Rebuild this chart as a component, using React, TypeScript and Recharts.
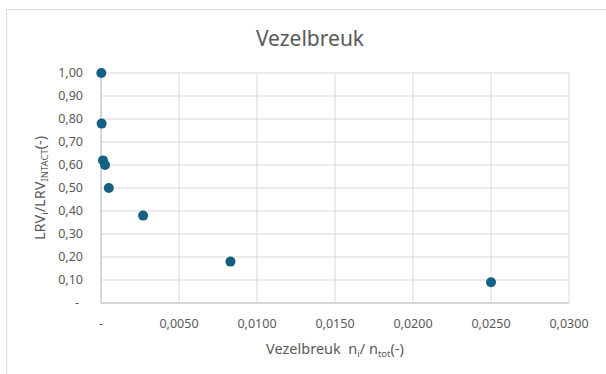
import React from "react";
import { ScatterChart, Scatter, XAxis, YAxis, CartesianGrid } from "recharts";

const xValues = [0.00002, 0.00004, 0.00013, 0.00026, 0.0005, 0.0027, 0.0083, 0.025];
const yValues = [1.0, 0.78, 0.62, 0.6, 0.5, 0.38, 0.18, 0.09];
const xTicks = [0, 0.005, 0.01, 0.015, 0.02, 0.025, 0.03];
const yTicks = [0, 0.1, 0.2, 0.3, 0.4, 0.5, 0.6, 0.7, 0.8, 0.9, 1.0];
const title = "Vezelbreuk";

const data = xValues.map((x, i) => ({ x, y: yValues[i] }));

const FONT = "'Noto Sans', 'Open Sans', sans-serif";
const GRAY = "#595959";

const fmt = (v: number, d: number) => (v === 0 ? "-" : v.toFixed(d).replace(".", ","));

const YTick = (props: any) => {
  const { x, y, payload } = props;
  const v = payload.value;
  return (
    <text
      x={v === 0 ? x - 4 : x}
      y={y}
      dy="0.35em"
      textAnchor="end"
      fill={GRAY}
      fontSize={12.5}
      fontFamily={FONT}
    >
      {fmt(v, 2)}
    </text>
  );
};

const XTick = (props: any) => {
  const { x, y, payload } = props;
  return (
    <text x={x} y={y} dy="0.71em" textAnchor="middle" fill={GRAY} fontSize={12.5} fontFamily={FONT}>
      {fmt(payload.value, 4)}
    </text>
  );
};

const XTitle = (props: any) => {
  const vb = props.viewBox || {};
  const cx = vb.x + vb.width / 2;
  return (
    <text x={cx} y={354} textAnchor="middle" fill={GRAY} fontSize={14.5} fontFamily={FONT}>
      Vezelbreuk{"\u00a0\u00a0"}n
      <tspan fontSize={9.5} dy={3}>i</tspan>
      <tspan dy={-3}>/ n</tspan>
      <tspan fontSize={9.5} dy={3}>tot</tspan>
      <tspan dy={-3}>(-)</tspan>
    </text>
  );
};

const YTitle = (props: any) => {
  const vb = props.viewBox || {};
  const cy = vb.y + vb.height / 2;
  const cx = 45;
  return (
    <text
      x={cx}
      y={cy}
      transform={`rotate(-90, ${cx}, ${cy})`}
      textAnchor="middle"
      fill={GRAY}
      fontSize={14.5}
      fontFamily={FONT}
    >
      LRV
      <tspan fontSize={9.5} dy={3}>i</tspan>
      <tspan dy={-3}>/LRV</tspan>
      <tspan fontSize={9.5} dy={3}>INTACT</tspan>
      <tspan dy={-3}>(-)</tspan>
    </text>
  );
};

export default function App() {
  return (
    <div
      style={{
        position: "absolute",
        left: 0,
        top: 0,
        width: 606,
        height: 374,
        overflow: "hidden",
        background: "#fff",
      }}
    >
      <div
        style={{
          position: "absolute",
          left: 6,
          top: 9,
          width: 700,
          height: 500,
          border: "1px solid #d9d9d9",
        }}
      />
      <div
        style={{
          position: "absolute",
          left: 0,
          width: 620,
          top: 24,
          textAlign: "center",
          fontFamily: FONT,
          fontSize: 21,
          color: GRAY,
          lineHeight: "28px",
        }}
      >
        {title}
      </div>
      <div style={{ position: "absolute", left: 0, top: 0 }}>
        <ScatterChart width={606} height={374} margin={{ top: 73, right: 37, bottom: 0, left: 0 }}>
          <CartesianGrid stroke="#d9d9d9" strokeWidth={1} />
          <XAxis
            type="number"
            dataKey="x"
            domain={[0, 0.03]}
            ticks={xTicks}
            height={71}
            tickLine={false}
            tickSize={0}
            tickMargin={16}
            axisLine={{ stroke: "#bfbfbf" }}
            tick={<XTick />}
            interval={0}
            label={<XTitle />}
          />
          <YAxis
            type="number"
            dataKey="y"
            domain={[0, 1]}
            ticks={yTicks}
            width={101}
            tickLine={false}
            tickSize={0}
            tickMargin={18}
            axisLine={{ stroke: "#bfbfbf" }}
            tick={<YTick />}
            interval={0}
            label={<YTitle />}
          />
          <Scatter
            data={data}
            fill="#156082"
            isAnimationActive={false}
            shape={(p: any) => <circle cx={p.cx} cy={p.cy} r={5} fill="#156082" />}
          />
        </ScatterChart>
      </div>
    </div>
  );
}
